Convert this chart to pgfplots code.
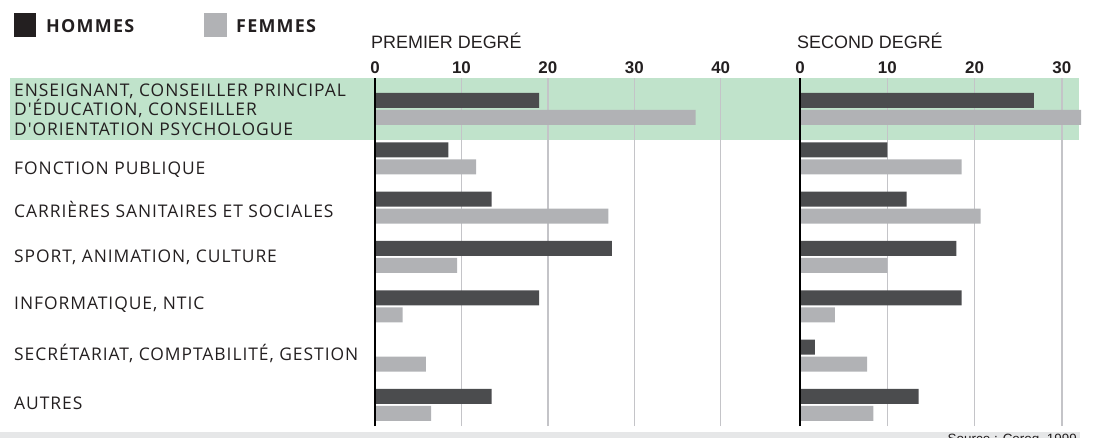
\documentclass[border=0pt]{standalone}
\usepackage{fontspec}
\usepackage{pgfplots}
\pgfplotsset{compat=1.18}
\setmainfont{Open Sans}
\newfontfamily\labelfont[LetterSpace=5.5]{Open Sans}
\newfontfamily\keyfont[LetterSpace=7]{Open Sans}
\newfontfamily\helv{Liberation Sans}

\definecolor{hbar}{HTML}{4B4C4E}
\definecolor{fbar}{HTML}{B1B2B5}
\definecolor{hkey}{HTML}{231F20}
\definecolor{band}{HTML}{C0E3CB}
\definecolor{foot}{HTML}{E6E7E8}
\definecolor{gridc}{HTML}{C4C4C8}
\definecolor{ink}{HTML}{231F20}

% rows: 7 = top category, 1 = bottom category
\pgfplotsset{
  degre/.style={
    xbar, scale only axis, height=348bp,
    ymin=0.574, ymax=7.628, ytick=\empty,
    axis line style={draw=none},
    major tick length=0pt,
    xticklabel pos=upper,
    xmajorgrids, grid style={gridc, line width=1.4bp},
    xticklabel style={anchor=south, inner sep=0pt, yshift=4bp,
      font=\helv\bfseries\fontsize{17}{17}\selectfont, text=ink},
    clip=false,
  },
  hommes/.style={fill=hbar, draw=none, bar width=15bp, bar shift=8.5bp},
  femmes/.style={fill=fbar, draw=none, bar width=15bp, bar shift=-8.5bp},
}

\begin{document}
\begin{tikzpicture}
\path[use as bounding box] (0,0) rectangle (1108bp,-438bp);
\clip (0,0) rectangle (1108bp,-438bp);

% highlighted first row and footer strip
\fill[band] (10bp,-78bp) rectangle (1079bp,-140bp);
\fill[foot] (0bp,-432bp) rectangle (1080bp,-440bp);
\node[anchor=base east, inner sep=0pt, text=ink,
  font=\helv\fontsize{13.5}{13.5}\selectfont] at (1077bp,-443bp) {Source : Cereq, 1999};

% legend
\fill[hkey] (14bp,-13bp) rectangle (36bp,-37bp);
\node[anchor=base west, inner sep=0pt, text=ink, font=\keyfont\bfseries\fontsize{18}{18}\selectfont]
  at (46bp,-32.7bp) {HOMMES};
\fill[fbar] (204bp,-13bp) rectangle (227bp,-37bp);
\node[anchor=base west, inner sep=0pt, text=ink, font=\keyfont\bfseries\fontsize{18}{18}\selectfont]
  at (236bp,-32.7bp) {FEMMES};

% panel titles
\node[anchor=base west, inner sep=0pt, text=ink, font=\helv\fontsize{18}{18}\selectfont]
  at (371bp,-48bp) {PREMIER DEGRÉ};
\node[anchor=base west, inner sep=0pt, text=ink, font=\helv\fontsize{18}{18}\selectfont]
  at (797bp,-48bp) {SECOND DEGRÉ};

% category labels
\begin{scope}[every node/.style={anchor=base west, inner sep=0pt, text=ink,
    font=\labelfont\fontsize{17.5}{17.5}\selectfont}]
\node at (14bp,-96bp)  {ENSEIGNANT, CONSEILLER PRINCIPAL};
\node at (14bp,-115.5bp) {D'ÉDUCATION, CONSEILLER};
\node at (14bp,-135bp) {D'ORIENTATION PSYCHOLOGUE};
\node at (14bp,-174bp) {FONCTION PUBLIQUE};
\node at (14bp,-217bp) {CARRIÈRES SANITAIRES ET SOCIALES};
\node at (14bp,-262bp) {SPORT, ANIMATION, CULTURE};
\node at (14bp,-309bp) {INFORMATIQUE, NTIC};
\node at (14bp,-360bp) {SECRÉTARIAT, COMPTABILITÉ, GESTION};
\node at (14bp,-409bp) {AUTRES};
\end{scope}

% premier degré
\begin{axis}[degre, at={(375bp,-426bp)}, anchor=south west,
  width=350bp, xmin=0, xmax=40.5,
  xtick={0,10,20,30,40}, xticklabels={0,10,20,30,40}]
\addplot[hommes] coordinates {(19.0,7) (8.5,6) (13.5,5) (27.4,4) (19.0,3) (0,2) (13.5,1)};
\addplot[femmes] coordinates {(37.1,7) (11.7,6) (27.0,5) (9.5,4) (3.2,3) (5.9,2) (6.5,1)};
\draw[black, line width=1.5bp] (rel axis cs:0,0) -- (rel axis cs:0,1);
\end{axis}

% second degré
\begin{axis}[degre, at={(800bp,-426bp)}, anchor=south west,
  width=281.1bp, xmin=0, xmax=32.2,
  xtick={0,10,20,30}, xticklabels={0,10,20,30}]
\addplot[hommes] coordinates {(26.8,7) (10.0,6) (12.2,5) (17.9,4) (18.5,3) (1.7,2) (13.6,1)};
\addplot[femmes] coordinates {(32.2,7) (18.5,6) (20.7,5) (10.0,4) (4.0,3) (7.7,2) (8.4,1)};
\draw[black, line width=1.5bp] (rel axis cs:0,0) -- (rel axis cs:0,1);
\end{axis}
\end{tikzpicture}
\end{document}
